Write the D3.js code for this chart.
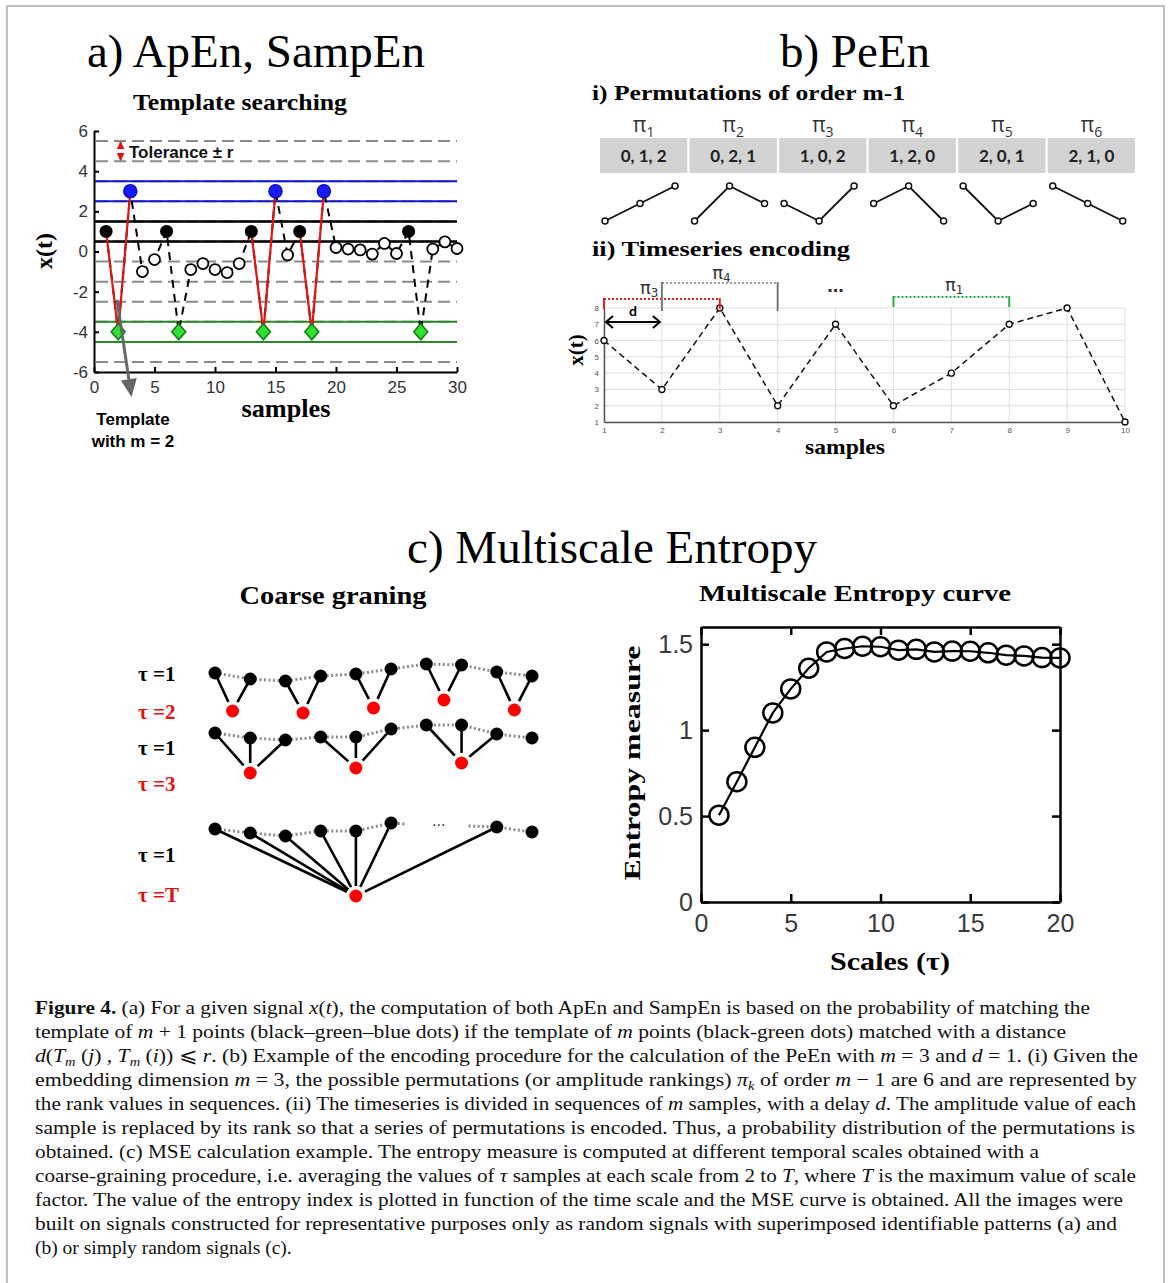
<!DOCTYPE html>
<html>
<head>
<meta charset="utf-8">
<script src="https://cdn.jsdelivr.net/npm/d3@7"></script>
<style>
body { margin: 0; background: #fff; }
svg { display: block; }
</style>
</head>
<body>
<script>
// ---------- data ----------
// (a) template searching
var apenValues = [1, -4, 3, -1, -0.4, 1, -4, -0.9, -0.6, -0.9, -1.05, -0.6, 1, -4, 3, -0.17,
                  1, -4, 3, 0.2, 0.12, 0.08, -0.13, 0.4, -0.1, 1, -4, 0.12, 0.48, 0.15];
// k = black template point, g = green, b = blue, o = other sample
var apenKinds = ("kgbookg" + "ooooo" + "kgbokgb" + "oooooo" + "kg" + "ooo").split("");
var apenTemplates = [[1, 2, 3], [13, 14, 15], [17, 18, 19]];
var apenBands = [3, 1, -4];
var apenTolerance = 0.5;
var apenDashLevels = [5.5, 4.5, 3.5, 2.5, 1.5, 0.5, -0.5, -1.5, -2.5, -3.5, -4.5, -5.5];
var apenXTicks = [0, 5, 10, 15, 20, 25, 30];
var apenYTicks = [-6, -4, -2, 0, 2, 4, 6];

// (b) permutation entropy
var permNames = ["1", "2", "3", "4", "5", "6"];
var permRanks = [[0, 1, 2], [0, 2, 1], [1, 0, 2], [1, 2, 0], [2, 0, 1], [2, 1, 0]];
var peenValues = [6, 3, 8, 2, 7, 2, 4, 7, 8, 1];
var peenXTicks = [1, 2, 3, 4, 5, 6, 7, 8, 9, 10];
var peenYTicks = [1, 2, 3, 4, 5, 6, 7, 8];
var peenWindows = [{from: 1, to: 3, name: "3"}, {from: 2, to: 4, name: "4"}, {from: 6, to: 8, name: "1"}];

// (c) coarse graining (amplitudes, arbitrary units)
var cgRow1 = [8, 2, 0, 5, 7, 12, 17, 16, 9, 5];
var cgTau2 = [4, 2, 7, 15, 5];
var cgRow2 = [7, 2, 0, 3, 3, 11, 15, 15, 6, 2];
var cgTau3 = [2, 7, 12];
var cgRow3Idx = [0, 1, 2, 3, 4, 5, 8, 9];
var cgRow3 = [7, 3, 0, 5, 5, 13, 9, 4];
var cgTauT = 2;

// (c) multiscale entropy curve
var mseScales = [1, 2, 3, 4, 5, 6, 7, 8, 9, 10, 11, 12, 13, 14, 15, 16, 17, 18, 19, 20];
var mseValues = [0.505, 0.70, 0.90, 1.10, 1.24, 1.36, 1.455, 1.475, 1.488, 1.485,
                 1.465, 1.47, 1.455, 1.46, 1.459, 1.45, 1.436, 1.432, 1.422, 1.42];
var mseXTicks = [0, 5, 10, 15, 20];
var mseYTicks = [0, 0.5, 1, 1.5];

var SERIF = "Liberation Serif, Times New Roman, serif";
var SANS = "Liberation Sans, Arial, sans-serif";
var CAL = "Lato, Open Sans, sans-serif";

var svg = d3.select("body").append("svg").attr("width", 1170).attr("height", 1283);
svg.append("rect").attr("width", 1170).attr("height", 1283).attr("fill", "#fff");
svg.append("path").attr("d", "M7,1283V6H1164V1283").attr("fill", "none")
  .attr("stroke", "#aaa").attr("stroke-width", 1.5);

function label(g, x, y, txt, size, opts) {
  opts = opts || {};
  var t = g.append("text").attr("x", x).attr("y", y).text(txt)
    .attr("font-family", opts.family || SERIF).attr("font-size", size)
    .attr("font-weight", opts.weight || "normal")
    .attr("text-anchor", opts.anchor || "middle")
    .attr("fill", opts.fill || "#000");
  if (opts.len) t.attr("textLength", opts.len).attr("lengthAdjust", "spacingAndGlyphs");
  if (opts.rotate) t.attr("transform", "rotate(-90," + x + "," + y + ")");
  return t;
}

function styleAxis(g, size, color, width) {
  g.select(".domain").attr("stroke", "#000").attr("stroke-width", width);
  g.selectAll(".tick line").attr("stroke", "#000").attr("stroke-width", width);
  g.selectAll(".tick text").attr("font-family", SANS).attr("font-size", size).attr("fill", color);
}

var defs = svg.append("defs");
defs.append("marker").attr("id", "redhead").attr("viewBox", "0 0 10 10").attr("refX", 9).attr("refY", 5)
  .attr("markerWidth", 4).attr("markerHeight", 4).attr("orient", "auto-start-reverse")
  .append("path").attr("d", "M0,0L10,5L0,10Z").attr("fill", "#e01515");

// ---------- titles ----------
label(svg, 256, 67, "a) ApEn, SampEn", 47);
label(svg, 855, 67, "b) PeEn", 47);
label(svg, 612, 563, "c) Multiscale Entropy", 47);

// ---------- (a) ----------
var gA = svg.append("g");
var xA = d3.scaleLinear().domain([0, 30]).range([94, 457]);
var yA = d3.scaleLinear().domain([-6, 6]).range([372, 131]);

label(gA, 240, 110, "Template searching", 23, {weight: "bold", len: 214});

gA.selectAll("line.lvl").data(apenDashLevels).join("line").attr("class", "lvl")
  .attr("x1", xA(0) + 2).attr("x2", xA(30)).attr("y1", function(d) { return yA(d); }).attr("y2", function(d) { return yA(d); })
  .attr("stroke", "#8a8a8a").attr("stroke-width", 2).attr("stroke-dasharray", "12,6");

var bandColors = ["#1515d0", "#000", "#2a8a2a"];
apenBands.forEach(function(c, i) {
  [c - apenTolerance, c + apenTolerance].forEach(function(v) {
    gA.append("line").attr("x1", xA(0)).attr("x2", xA(30)).attr("y1", yA(v)).attr("y2", yA(v))
      .attr("stroke", bandColors[i]).attr("stroke-width", i === 1 ? 2.5 : 2);
  });
});

var axA = gA.append("g").attr("transform", "translate(" + xA(0) + ",0)")
  .call(d3.axisLeft(yA).tickValues(apenYTicks).tickSize(-5).tickSizeOuter(0).tickPadding(6).tickFormat(function(d) { return String(d); }));
styleAxis(axA, 17, "#333", 2);
var axB = gA.append("g").attr("transform", "translate(0," + yA(-6) + ")")
  .call(d3.axisBottom(xA).tickValues(apenXTicks).tickSize(-5).tickSizeOuter(0).tickPadding(9));
styleAxis(axB, 17, "#333", 2);

var lineA = d3.line().x(function(d, i) { return xA(i + 1); }).y(function(d) { return yA(d); });
gA.append("path").datum(apenValues).attr("d", lineA).attr("fill", "none")
  .attr("stroke", "#000").attr("stroke-width", 2).attr("stroke-dasharray", "8,6");

apenTemplates.forEach(function(tp) {
  gA.append("path").datum(tp).attr("fill", "none").attr("stroke", "#e01515").attr("stroke-width", 2.2)
    .attr("d", d3.line().x(function(s) { return xA(s); }).y(function(s) { return yA(apenValues[s - 1]); }));
});

var pts = apenValues.map(function(v, i) { return {x: i + 1, y: v, k: apenKinds[i]}; });
gA.selectAll("circle.o").data(pts.filter(function(p) { return p.k === "o"; })).join("circle")
  .attr("cx", function(p) { return xA(p.x); }).attr("cy", function(p) { return yA(p.y); }).attr("r", 5.5)
  .attr("fill", "#fff").attr("stroke", "#000").attr("stroke-width", 1.8);
gA.selectAll("circle.k").data(pts.filter(function(p) { return p.k === "k"; })).join("circle")
  .attr("cx", function(p) { return xA(p.x); }).attr("cy", function(p) { return yA(p.y); }).attr("r", 6.5)
  .attr("fill", "#000");
gA.selectAll("circle.b").data(pts.filter(function(p) { return p.k === "b"; })).join("circle")
  .attr("cx", function(p) { return xA(p.x); }).attr("cy", function(p) { return yA(p.y); }).attr("r", 6.5)
  .attr("fill", "#1a1aff").attr("stroke", "#1010c0").attr("stroke-width", 1.5);
gA.selectAll("path.g").data(pts.filter(function(p) { return p.k === "g"; })).join("path")
  .attr("d", function(p) { var x = xA(p.x), y = yA(p.y); return "M" + x + "," + (y - 8) + "L" + (x + 7) + "," + y + "L" + x + "," + (y + 8) + "L" + (x - 7) + "," + y + "Z"; })
  .attr("fill", "#2fe02f").attr("stroke", "#1a7a1a").attr("stroke-width", 1.6);

// tolerance marker
gA.append("line").attr("x1", xA(2.2)).attr("x2", xA(2.2)).attr("y1", yA(5) - 2).attr("y2", yA(5.5) + 1)
  .attr("stroke", "#e01515").attr("stroke-width", 2).attr("marker-end", "url(#redhead)");
gA.append("line").attr("x1", xA(2.2)).attr("x2", xA(2.2)).attr("y1", yA(5) + 2).attr("y2", yA(4.5) - 1)
  .attr("stroke", "#e01515").attr("stroke-width", 2).attr("marker-end", "url(#redhead)");
label(gA, 129, 158, "Tolerance \u00b1 r", 17, {family: SANS, weight: "bold", anchor: "start", fill: "#111"});

// template arrow
var a0 = [xA(1.9), yA(-2.4)], a1 = [xA(3.1), yA(-7.25)];
var ang = Math.atan2(a1[1] - a0[1], a1[0] - a0[0]);
var hb = [a1[0] - 18 * Math.cos(ang), a1[1] - 18 * Math.sin(ang)];
gA.append("line").attr("x1", a0[0]).attr("y1", a0[1]).attr("x2", hb[0]).attr("y2", hb[1])
  .attr("stroke", "#666").attr("stroke-width", 3);
gA.append("path").attr("fill", "#666").attr("d", "M" + a1[0] + "," + a1[1] +
  "L" + (hb[0] + 8 * Math.sin(ang)) + "," + (hb[1] - 8 * Math.cos(ang)) +
  "L" + (hb[0] - 8 * Math.sin(ang)) + "," + (hb[1] + 8 * Math.cos(ang)) + "Z");
label(gA, 133, 425, "Template", 17, {family: SANS, weight: "bold"});
label(gA, 133, 447, "with m = 2", 17, {family: SANS, weight: "bold"});
label(gA, 286, 417, "samples", 25, {weight: "bold", len: 89});
label(gA, 52, 251, "x(t)", 24, {weight: "bold", rotate: true});

// ---------- (b) i ----------
var gB = svg.append("g");
label(gB, 592, 100, "i) Permutations of order m-1", 22, {weight: "bold", anchor: "start", len: 313});
var xCell = d3.scaleBand().domain(d3.range(permRanks.length)).range([600, 1135]).paddingInner(0.025);
var xMini = d3.scalePoint().domain([0, 1, 2]).range([5, 75]);
var yRank = d3.scaleLinear().domain([0, 2]).range([221, 186]);
permRanks.forEach(function(rk, i) {
  var x0 = xCell(i), cx = x0 + xCell.bandwidth() / 2;
  gB.append("rect").attr("x", x0).attr("y", 138).attr("width", xCell.bandwidth()).attr("height", 35).attr("fill", "#d3d3d3");
  gB.append("text").attr("x", cx).attr("y", 162).attr("text-anchor", "middle")
    .attr("font-family", CAL).attr("font-weight", "bold").attr("font-size", 17).attr("fill", "#222")
    .text(rk.join(", "));
  var pi = gB.append("text").attr("x", cx).attr("y", 132).attr("text-anchor", "middle")
    .attr("font-family", "Open Sans, DejaVu Sans, sans-serif").attr("font-size", 21).attr("fill", "#333");
  pi.append("tspan").text("\u03c0");
  pi.append("tspan").attr("dy", 5).attr("font-size", 14).text(permNames[i]);
  var lp = rk.map(function(r, j) { return [x0 + xMini(j), yRank(r)]; });
  gB.append("path").attr("d", d3.line()(lp)).attr("fill", "none").attr("stroke", "#111").attr("stroke-width", 1.8);
  gB.selectAll(null).data(lp).join("circle").attr("cx", function(d) { return d[0]; }).attr("cy", function(d) { return d[1]; })
    .attr("r", 3).attr("fill", "#fff").attr("stroke", "#111").attr("stroke-width", 1.5);
});

// ---------- (b) ii ----------
label(gB, 592, 256, "ii) Timeseries encoding", 22, {weight: "bold", anchor: "start", len: 258});
var xB = d3.scaleLinear().domain([1, 10]).range([604, 1125]);
var yB = d3.scaleLinear().domain([1, 8]).range([422, 308]);
gB.selectAll("line.vg").data(peenXTicks).join("line").attr("x1", function(d) { return xB(d); }).attr("x2", function(d) { return xB(d); })
  .attr("y1", yB(1)).attr("y2", yB(8)).attr("stroke", "#dedede").attr("stroke-width", 1);
gB.selectAll("line.hg").data(peenYTicks).join("line").attr("y1", function(d) { return yB(d); }).attr("y2", function(d) { return yB(d); })
  .attr("x1", xB(1)).attr("x2", xB(10)).attr("stroke", "#dedede").attr("stroke-width", 1);
var bL = gB.append("g").attr("transform", "translate(" + xB(1) + ",0)")
  .call(d3.axisLeft(yB).tickValues(peenYTicks).tickSize(0).tickPadding(5).tickFormat(d3.format("d")));
var bB = gB.append("g").attr("transform", "translate(0," + yB(1) + ")")
  .call(d3.axisBottom(xB).tickValues(peenXTicks).tickSize(0).tickPadding(5).tickFormat(d3.format("d")));
[bL, bB].forEach(function(g) {
  g.select(".domain").attr("stroke", "#555").attr("stroke-width", 1.5);
  g.selectAll(".tick text").attr("font-family", SANS).attr("font-size", 8).attr("fill", "#555");
});
gB.append("path").datum(peenValues).attr("fill", "none").attr("stroke", "#111").attr("stroke-width", 1.5)
  .attr("stroke-dasharray", "6,4")
  .attr("d", d3.line().x(function(d, i) { return xB(i + 1); }).y(function(d) { return yB(d); }));
gB.selectAll("circle.pe").data(peenValues).join("circle").attr("cx", function(d, i) { return xB(i + 1); })
  .attr("cy", function(d) { return yB(d); }).attr("r", 3).attr("fill", "#fff").attr("stroke", "#111").attr("stroke-width", 1.4);

// window brackets: pixel placement of each bracket and its label
var winStyle = [
  {top: 299, bot: 309, dot: "#e02020", tick: "#e02020", lx: 1.78, ly: 294},
  {top: 283, bot: 311, dot: "#999", tick: "#777", lx: 3.03, ly: 279},
  {top: 297, bot: 307, dot: "#22b04a", tick: "#22b04a", lx: 7.05, ly: 291}
];
peenWindows.forEach(function(w, i) {
  var s = winStyle[i];
  gB.append("line").attr("x1", xB(w.from)).attr("x2", xB(w.to)).attr("y1", s.top).attr("y2", s.top)
    .attr("stroke", s.dot).attr("stroke-width", 2).attr("stroke-dasharray", "2,2");
  [w.from, w.to].forEach(function(v) {
    gB.append("line").attr("x1", xB(v)).attr("x2", xB(v)).attr("y1", s.top - 1).attr("y2", s.bot)
      .attr("stroke", s.tick).attr("stroke-width", 2);
  });
  var t = gB.append("text").attr("x", xB(s.lx)).attr("y", s.ly)
    .attr("text-anchor", "middle").attr("font-family", "DejaVu Sans, sans-serif").attr("font-size", 18).attr("fill", "#333");
  t.append("tspan").text("\u03c0");
  t.append("tspan").attr("dy", 3).attr("font-size", 12).text(w.name);
});
label(gB, xB(5), 292, "...", 20, {family: SANS, weight: "bold", fill: "#333"});
// delay arrow
var dy0 = 322;
gB.append("line").attr("x1", xB(1) + 2).attr("x2", xB(2) - 2).attr("y1", dy0).attr("y2", dy0).attr("stroke", "#000").attr("stroke-width", 2);
gB.append("path").attr("fill", "none").attr("stroke", "#000").attr("stroke-width", 2)
  .attr("d", "M" + (xB(1) + 9) + "," + (dy0 - 6) + "L" + (xB(1) + 2) + "," + dy0 + "L" + (xB(1) + 9) + "," + (dy0 + 6) +
    "M" + (xB(2) - 9) + "," + (dy0 - 6) + "L" + (xB(2) - 2) + "," + dy0 + "L" + (xB(2) - 9) + "," + (dy0 + 6));
label(gB, 633, 316, "d", 14, {family: CAL, weight: "bold"});
label(gB, 845, 454, "samples", 21, {weight: "bold", len: 80});
label(gB, 583, 350, "x(t)", 21, {weight: "bold", rotate: true});

// ---------- (c) coarse graining ----------
var gC = svg.append("g");
label(gC, 333, 604, "Coarse graning", 25, {weight: "bold", len: 187});
var xCG = d3.scaleLinear().domain([0, 9]).range([215, 532]);
function rowY(base) { return d3.scaleLinear().domain([0, 1]).range([base, base - 1]); }
var y1 = rowY(681), yR2 = rowY(715), y2 = rowY(740), yR3 = rowY(775), y3 = rowY(836), yRT = rowY(898);

var tauLabels = [["\u03c4 =1", 681, "#000"], ["\u03c4 =2", 719, "#e01010"], ["\u03c4 =1", 755, "#000"],
                 ["\u03c4 =3", 791, "#e01010"], ["\u03c4 =1", 862, "#000"], ["\u03c4 =T", 902, "#e01010"]];
tauLabels.forEach(function(l) { label(gC, 138, l[1], l[0], 21, {weight: "bold", anchor: "start", fill: l[2]}); });

function dotted(pts) {
  gC.append("path").attr("d", d3.line()(pts)).attr("fill", "none").attr("stroke", "#8a8a8a")
    .attr("stroke-width", 3).attr("stroke-dasharray", "2,2.5");
}
function spoke(p, q) {
  var dx = q[0] - p[0], dy = q[1] - p[1], L = Math.sqrt(dx * dx + dy * dy), k = (L - 10) / L;
  gC.append("line").attr("x1", p[0]).attr("y1", p[1]).attr("x2", p[0] + dx * k).attr("y2", p[1] + dy * k)
    .attr("stroke", "#000").attr("stroke-width", 2.6);
}
function dots(pts, color) {
  gC.selectAll(null).data(pts).join("circle").attr("cx", function(d) { return d[0]; }).attr("cy", function(d) { return d[1]; })
    .attr("r", 6.5).attr("fill", color);
}

// row 1 / tau 2
var r1 = cgRow1.map(function(v, i) { return [xCG(i), y1(v)]; });
var r2red = cgTau2.map(function(v, i) { return [xCG(2 * i + 0.5), yR2(v)]; });
dotted(r1);
r2red.forEach(function(q, i) { spoke(r1[2 * i], q); spoke(r1[2 * i + 1], q); });
dots(r1, "#000"); dots(r2red, "#f00");

// row 2 / tau 3
var r2 = cgRow2.map(function(v, i) { return [xCG(i), y2(v)]; });
var r3red = cgTau3.map(function(v, i) { return [xCG(3 * i + 1), yR3(v)]; });
dotted(r2);
r3red.forEach(function(q, i) { spoke(r2[3 * i], q); spoke(r2[3 * i + 1], q); spoke(r2[3 * i + 2], q); });
dots(r2, "#000"); dots(r3red, "#f00");

// row 3 / tau T
var r3 = cgRow3.map(function(v, i) { return [xCG(cgRow3Idx[i]), y3(v)]; });
var redT = [xCG(4), yRT(cgTauT)];
dotted(r3.slice(0, 6).concat([[xCG(5.4), r3[5][1] + 1]]));
dotted([[xCG(7.2), r3[6][1] - 1]].concat(r3.slice(6)));
r3.slice(0, 7).forEach(function(p) { spoke(p, redT); });
dots(r3, "#000"); dots([redT], "#f00");
label(gC, xCG(6.35), 826, "...", 16, {family: SANS, fill: "#333"});

// ---------- (c) MSE curve ----------
var gM = svg.append("g");
label(gM, 855, 601, "Multiscale Entropy curve", 24, {weight: "bold", len: 312});
var xM = d3.scaleLinear().domain([0, 20]).range([701, 1060]);
var yM = d3.scaleLinear().domain([0, 1.6]).range([902, 627]);
var mL = gM.append("g").attr("transform", "translate(" + xM(0) + ",0)")
  .call(d3.axisLeft(yM).tickValues(mseYTicks).tickSize(-8).tickSizeOuter(0).tickPadding(8).tickFormat(function(d) { return String(d); }));
var mB = gM.append("g").attr("transform", "translate(0," + yM(0) + ")")
  .call(d3.axisBottom(xM).tickValues(mseXTicks).tickSize(-8).tickSizeOuter(0).tickPadding(12));
var mR = gM.append("g").attr("transform", "translate(" + xM(20) + ",0)")
  .call(d3.axisRight(yM).tickValues(mseYTicks).tickSize(-8).tickSizeOuter(0).tickFormat(""));
var mT = gM.append("g").attr("transform", "translate(0," + yM(1.6) + ")")
  .call(d3.axisTop(xM).tickValues(mseXTicks).tickSize(-8).tickSizeOuter(0).tickFormat(""));
[mL, mB, mR, mT].forEach(function(g) { styleAxis(g, 25, "#3a3a3a", 2.5); });
gM.append("path").datum(mseValues).attr("fill", "none").attr("stroke", "#000").attr("stroke-width", 2.2)
  .attr("d", d3.line().x(function(d, i) { return xM(mseScales[i]); }).y(function(d) { return yM(d); }));
gM.selectAll("circle.m").data(mseValues).join("circle").attr("cx", function(d, i) { return xM(mseScales[i]); })
  .attr("cy", function(d) { return yM(d); }).attr("r", 9.5).attr("fill", "none").attr("stroke", "#000").attr("stroke-width", 2.5);
label(gM, 890, 970, "Scales (\u03c4)", 25, {weight: "bold", len: 120});
label(gM, 640, 763, "Entropy measure", 24, {weight: "bold", rotate: true, len: 235});

// ---------- caption ----------
var captionLines = [
  [1055, [["Figure 4.", "b"], [" (a) For a given signal "], ["x", "i"], ["("], ["t", "i"], ["), the computation of both ApEn and SampEn is based on the probability of matching the"]]],
  [1031, [["template of "], ["m", "i"], [" + 1 points (black\u2013green\u2013blue dots) if the template of "], ["m", "i"], [" points (black-green dots) matched with a distance"]]],
  [1103, [["d", "i"], ["("], ["T", "i"], ["m", "s"], [" ("], ["j", "i"], [") , "], ["T", "i"], ["m", "s"], [" ("], ["i", "i"], [")) \u2a7d "], ["r", "i"], [". (b) Example of the encoding procedure for the calculation of the PeEn with "], ["m", "i"], [" = 3 and "], ["d", "i"], [" = 1. (i) Given the"]]],
  [1102, [["embedding dimension "], ["m", "i"], [" = 3, the possible permutations (or amplitude rankings) "], ["\u03c0", "i"], ["k", "s"], [" of order "], ["m", "i"], [" \u2212 1 are 6 and are represented by"]]],
  [1101, [["the rank values in sequences. (ii) The timeseries is divided in sequences of "], ["m", "i"], [" samples, with a delay "], ["d", "i"], [". The amplitude value of each"]]],
  [1100, [["sample is replaced by its rank so that a series of permutations is encoded. Thus, a probability distribution of the permutations is"]]],
  [1004, [["obtained. (c) MSE calculation example. The entropy measure is computed at different temporal scales obtained with a"]]],
  [1101, [["coarse-graining procedure, i.e. averaging the values of "], ["\u03c4", "i"], [" samples at each scale from 2 to "], ["T", "i"], [", where "], ["T", "i"], [" is the maximum value of scale"]]],
  [1088, [["factor. The value of the entropy index is plotted in function of the time scale and the MSE curve is obtained. All the images were"]]],
  [1082, [["built on signals constructed for representative purposes only as random signals with superimposed identifiable patterns (a) and"]]],
  [0, [["(b) or simply random signals (c)."]]]
];
captionLines.forEach(function(line, li) {
  var t = svg.append("text").attr("x", 35).attr("y", 1014 + 24 * li)
    .attr("font-family", SERIF).attr("font-size", 19.5).attr("fill", "#111");
  if (line[0]) t.attr("textLength", line[0]).attr("lengthAdjust", "spacingAndGlyphs");
  var shifted = false;
  line[1].forEach(function(seg) {
    var s = t.append("tspan").text(seg[0]);
    if (seg[1] === "b") s.attr("font-weight", "bold");
    if (seg[1] === "i") s.attr("font-style", "italic");
    if (seg[1] === "s") { s.attr("font-style", "italic").attr("font-size", 13).attr("dy", 4); shifted = true; }
    else if (shifted) { s.attr("dy", -4); shifted = false; }
  });
});
</script>
</body>
</html>
